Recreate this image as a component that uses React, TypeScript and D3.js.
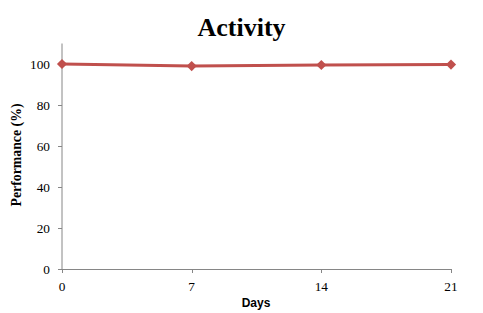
import React from "react";
import * as d3 from "d3";

const days = [0, 7, 14, 21];
const performance = [100, 99.0, 99.5, 99.7];
const yTicks = [0, 20, 40, 60, 80, 100];
const xTicks = [0, 7, 14, 21];
const title = "Activity";
const xLabel = "Days";
const yLabel = "Performance (%)";

export default function App() {
  const W = 483, H = 313;
  const x = d3.scaleLinear().domain([0, 21]).range([62, 451]);
  const y = d3.scaleLinear().domain([0, 110]).range([269, 43.5]);
  const axisColor = "#868686";
  const red = "#C0504D";
  const serif = "'Liberation Serif', 'Times New Roman', serif";
  const line = d3.line<number>().x((_, i) => x(days[i])).y((d) => y(d));
  const marker = d3.symbol().type(d3.symbolSquare).size(52)()!;
  return (
    <svg width={W} height={H} style={{ position: "absolute", left: 0, top: 0, display: "block", background: "#fff" }}>
      <text x={241.5} y={36} textAnchor="middle" fontFamily={serif} fontWeight="bold" fontSize={26}>{title}</text>
      {/* y axis */}
      <line x1={62} x2={62} y1={y(110)} y2={y(0)} stroke={axisColor} strokeWidth={1} />
      {yTicks.map((t) => (
        <g key={"y" + t}>
          <line x1={58} x2={62} y1={Math.round(y(t)) + 0.5} y2={Math.round(y(t)) + 0.5} stroke={axisColor} />
          <text x={50} y={y(t)} dy="0.35em" textAnchor="end" fontFamily={serif} fontSize={13.3}>{t}</text>
        </g>
      ))}
      {/* x axis */}
      <line x1={x(0)} x2={x(21)} y1={269.5} y2={269.5} stroke={axisColor} strokeWidth={1} />
      {xTicks.map((t) => (
        <g key={"x" + t}>
          <line x1={Math.round(x(t)) + 0.5} x2={Math.round(x(t)) + 0.5} y1={269} y2={273} stroke={axisColor} />
          <text x={x(t)} y={291} textAnchor="middle" fontFamily={serif} fontSize={13.3}>{t}</text>
        </g>
      ))}
      <text x={256} y={307} textAnchor="middle" fontFamily="'Liberation Sans', Arial, sans-serif" fontWeight="bold" fontSize={12}>{xLabel}</text>
      <text transform="translate(21,155) rotate(-90)" textAnchor="middle" fontFamily={serif} fontWeight="bold" fontSize={13.8}>{yLabel}</text>
      <path d={line(performance)!} fill="none" stroke={red} strokeWidth={3} />
      {performance.map((v, i) => (
        <path key={"m" + i} d={marker} transform={`translate(${x(days[i])},${y(v)}) rotate(45)`} fill={red} />
      ))}
    </svg>
  );
}
